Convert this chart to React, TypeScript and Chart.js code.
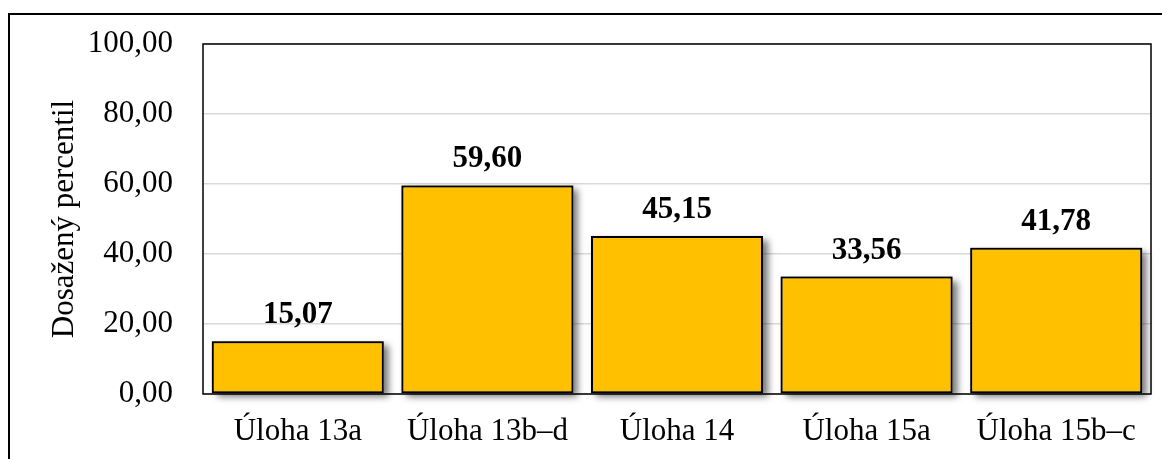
import React, { useEffect, useRef } from "react";
import { Chart, registerables } from "chart.js";

Chart.register(...registerables);

const categories = ["Úloha 13a", "Úloha 13b–d", "Úloha 14", "Úloha 15a", "Úloha 15b–c"];
const values = [15.07, 59.6, 45.15, 33.56, 41.78];
const yTicks = [0, 20, 40, 60, 80, 100];
const yTitle = "Dosažený percentil";

const FONT = "'Liberation Serif', 'Times New Roman', serif";
const fmt = (v: number) => v.toFixed(2).replace(".", ",");

export default function App() {
  const ref = useRef<HTMLCanvasElement | null>(null);
  useEffect(() => {
    if (!ref.current) return;
    const framePlugin = {
      id: "frame",
      beforeDraw(chart: any) {
        const ctx = chart.ctx;
        ctx.save();
        ctx.fillStyle = "#ffffff";
        ctx.fillRect(0, 0, chart.width, chart.height);
        ctx.fillStyle = "#000000";
        ctx.fillRect(0, 5, chart.width, 2);
        ctx.fillRect(0, 5, 2, chart.height);
        ctx.restore();
      },
      beforeDatasetsDraw(chart: any) {
        const ctx = chart.ctx;
        const meta = chart.getDatasetMeta(0);
        ctx.save();
        ctx.shadowColor = "rgba(0,0,0,0.55)";
        ctx.shadowBlur = 7;
        ctx.shadowOffsetX = 5;
        ctx.shadowOffsetY = 4;
        ctx.fillStyle = "#808080";
        meta.data.forEach((bar: any) => {
          const p = bar.getProps(["x", "y", "base", "width"], true);
          ctx.fillRect(p.x - p.width / 2, p.y, p.width, p.base - p.y);
        });
        ctx.restore();
      },
      afterDatasetsDraw(chart: any) {
        const ctx = chart.ctx;
        const a = chart.chartArea;
        ctx.save();
        ctx.strokeStyle = "#000000";
        ctx.lineWidth = 1.5;
        ctx.strokeRect(a.left, a.top, a.right - a.left, a.bottom - a.top);
        const meta = chart.getDatasetMeta(0);
        ctx.fillStyle = "#000000";
        ctx.font = `bold 31px ${FONT}`;
        ctx.textAlign = "center";
        ctx.textBaseline = "alphabetic";
        meta.data.forEach((bar: any, i: number) => {
          ctx.fillText(fmt(values[i]), bar.x, bar.y - 18);
        });
        ctx.restore();
      },
    };
    const chart = new Chart(ref.current, {
      type: "bar",
      data: {
        labels: categories,
        datasets: [
          {
            data: values,
            backgroundColor: "#FFC000",
            borderColor: "#000000",
            borderWidth: 2,
            borderSkipped: false,
            barPercentage: 0.907,
            categoryPercentage: 1,
          },
        ],
      },
      options: {
        animation: false,
        responsive: false,
        maintainAspectRatio: false,
        layout: { padding: { left: 0, top: 36, right: 19, bottom: 0 } },
        plugins: { legend: { display: false }, tooltip: { enabled: false } },
        scales: {
          x: {
            grid: { display: false, drawTicks: false },
            border: { display: false },
            ticks: { color: "#000", font: { family: FONT, size: 31 }, padding: 19, maxRotation: 0 },
            afterFit: (s: any) => {
              s.height = 65;
              s.paddingLeft = 0;
              s.paddingRight = 0;
            },
          },
          y: {
            min: 0,
            max: 100,
            afterBuildTicks: (s: any) => {
              s.ticks = yTicks.map((v) => ({ value: v }));
            },
            grid: { color: "#d9d9d9", lineWidth: 1.5, drawTicks: false },
            border: { display: false },
            ticks: {
              color: "#000",
              font: { family: FONT, size: 31 },
              padding: 30,
              callback: (v: any) => fmt(Number(v)),
            },
            title: {
              display: true,
              text: yTitle,
              color: "#000",
              font: { family: FONT, size: 31 },
              padding: { top: 38, bottom: 0 },
            },
            afterFit: (s: any) => {
              s.width = 195;
              s.paddingTop = 0;
              s.paddingBottom = 0;
            },
          },
        },
      },
      plugins: [framePlugin],
    });
    return () => chart.destroy();
  }, []);
  return (
    <div style={{ width: 1162, height: 451 }}>
      <canvas ref={ref} width={1162} height={451} style={{ display: "block", width: 1162, height: 451 }} />
    </div>
  );
}
